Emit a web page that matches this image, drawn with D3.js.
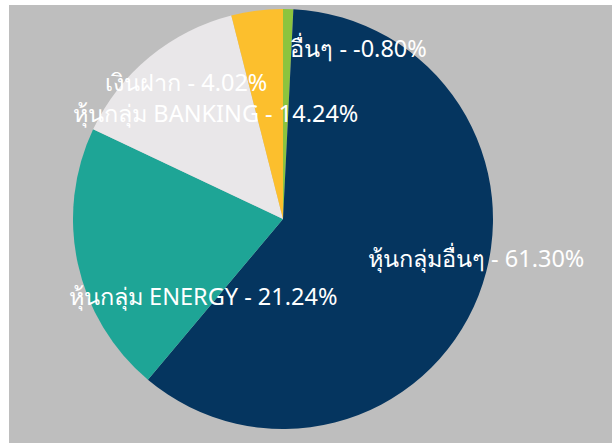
<!DOCTYPE html>
<html>
<head>
<meta charset="utf-8">
<script src="https://cdn.jsdelivr.net/npm/d3@7"></script>
<style>
  body { margin: 0; background: #fff; }
  svg { display: block; }
</style>
</head>
<body>
<svg id="pie" width="612" height="443"></svg>
<script>
// data
const categories = ["อื่นๆ", "หุ้นกลุ่มอื่นๆ", "หุ้นกลุ่ม ENERGY", "หุ้นกลุ่ม BANKING", "เงินฝาก"];
const values = [-0.80, 61.30, 21.24, 14.24, 4.02];
const colors = ["#8cc43e", "#05355f", "#1ea596", "#e9e7e9", "#fcbf2d"];

// label placement relative to pie centre (fraction of radius), excel "best fit" style
const labelOffsets = [[0.36, -0.77], [0.92, 0.23], [-0.38, 0.41], [-0.32, -0.46], [-0.46, -0.61]];

const svg = d3.select("#pie");
const cx = 283, cy = 219, radius = 210;

svg.append("rect")
  .attr("x", 9).attr("y", 5)
  .attr("width", 603).attr("height", 438)
  .attr("fill", "#bebebe");

const data = categories.map((c, i) => ({ name: c, value: values[i], color: colors[i], off: labelOffsets[i] }));

const pie = d3.pie()
  .sort(null)
  .value(d => Math.abs(d.value));

const arc = d3.arc().innerRadius(0).outerRadius(radius);

const g = svg.append("g").attr("transform", `translate(${cx},${cy})`);

g.selectAll("path")
  .data(pie(data))
  .enter()
  .append("path")
  .attr("d", arc)
  .attr("fill", d => d.data.color);

const fmt = v => v.toFixed(2) + "%";

g.selectAll("text")
  .data(pie(data))
  .enter()
  .append("text")
  .attr("x", d => d.data.off[0] * radius)
  .attr("y", d => d.data.off[1] * radius)
  .attr("text-anchor", "middle")
  .style("font-family", "'Noto Sans', 'DejaVu Sans', sans-serif")
  .style("font-size", "23.5px")
  .style("fill", "#fff")
  .text(d => `${d.data.name} - ${fmt(d.data.value)}`);
</script>
</body>
</html>
